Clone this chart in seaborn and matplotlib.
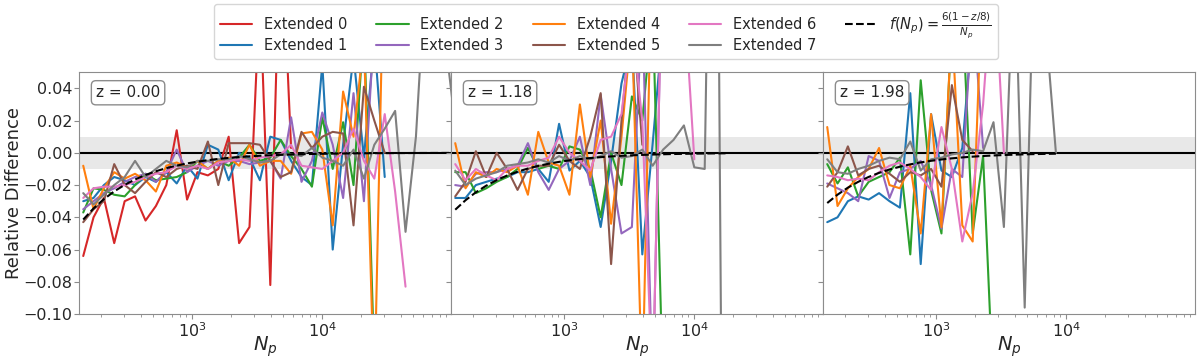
import numpy as np
import pandas as pd
import matplotlib
matplotlib.use("Agg")
import matplotlib.pyplot as plt
import seaborn as sns

# bin centres (number of particles)
NP = [145, 174, 209, 251, 302, 363, 437, 525, 631, 759, 912, 1096, 1318, 1585,
      1905, 2291, 2754, 3311, 3981, 4786, 5754, 6918, 8318, 10000, 12023, 14454,
      17378, 20893, 25119, 30200, 36308, 43652, 52481, 63096, 75858, 91201, 109648]

REDSHIFTS = [0.00, 1.18, 1.98]
LABELS = ["Extended 0", "Extended 1", "Extended 2", "Extended 3",
          "Extended 4", "Extended 5", "Extended 6", "Extended 7"]
COLORS = ["#d62728", "#1f77b4", "#2ca02c", "#9467bd",
          "#ff7f0e", "#8c564b", "#e377c2", "#7f7f7f"]

# ---- z = 0.00 ----
e0_a = [-0.064, -0.040, -0.028, -0.056, -0.030, -0.027, -0.042, -0.033, -0.020, 0.014,
        -0.029, -0.012, -0.014, -0.010, 0.010, -0.056, -0.046, 0.100, -0.082, 0.150, 0.003]
e1_a = [-0.030, -0.028, -0.020, -0.015, -0.017, -0.020, -0.015, -0.018, -0.012, -0.019,
        -0.008, -0.016, 0.005, 0.002, -0.017, 0.000, -0.003, -0.017, 0.010, 0.008,
        -0.005, -0.015, -0.020, 0.055, -0.060, 0.005, 0.060, -0.003, 0.070, -0.015]
e2_a = [-0.037, -0.022, -0.023, -0.026, -0.027, -0.020, -0.013, -0.017, -0.016, -0.015,
        -0.012, -0.005, -0.010, -0.005, -0.008, -0.003, 0.005, -0.005, -0.003, 0.008,
        -0.002, -0.010, -0.021, 0.022, -0.010, 0.019, -0.020, 0.080, -0.130]
e3_a = [-0.035, -0.030, -0.025, -0.022, -0.018, -0.015, -0.013, -0.018, -0.012, 0.002,
        -0.012, -0.008, -0.005, -0.008, -0.005, -0.005, -0.007, -0.006, -0.005, -0.016,
        0.022, -0.018, -0.005, 0.025, 0.005, -0.028, 0.037, -0.030, 0.080]
e4_a = [-0.008, -0.035, -0.022, -0.012, -0.016, -0.013, -0.017, -0.024, -0.008, -0.006,
        -0.009, -0.005, -0.010, -0.005, -0.003, -0.008, 0.005, -0.008, -0.005, -0.005,
        -0.013, 0.012, 0.013, 0.002, -0.045, 0.038, 0.010, 0.070, -0.150, 0.150]
e5_a = [-0.043, -0.035, -0.030, -0.007, -0.020, -0.025, -0.018, -0.012, -0.015, -0.010,
        -0.008, -0.010, 0.007, -0.020, 0.006, 0.006, 0.006, 0.005, -0.005, -0.015,
        -0.012, 0.013, 0.003, 0.010, 0.013, 0.012, -0.045, 0.041, 0.020, 0.000]
e6_a = [-0.028, -0.022, -0.021, -0.021, -0.020, -0.018, -0.015, -0.013, -0.012, -0.008,
        -0.010, -0.008, -0.010, -0.006, -0.005, -0.004, -0.005, -0.003, -0.002, -0.001,
        0.005, -0.008, -0.009, -0.010, -0.005, 0.000, 0.015, -0.005, -0.016, 0.024,
        -0.024, -0.083]
e7_a = [-0.025, -0.032, -0.026, -0.020, -0.015, -0.005, -0.015, -0.010, -0.005, -0.008,
        -0.009, -0.005, -0.005, -0.004, -0.004, -0.002, -0.004, -0.006, -0.005, -0.001,
        -0.001, -0.002, 0.003, -0.003, -0.005, -0.008, 0.002, -0.016, 0.005, 0.015,
        0.026, -0.049, 0.010, 0.120, 0.120, 0.060, 0.005]

# ---- z = 1.18 ----
e0_b = []
e1_b = [-0.028, -0.028, -0.020, -0.018, -0.016, -0.015, -0.012, -0.012, -0.010, -0.018,
        0.018, -0.011, -0.005, -0.015, -0.046, -0.005, 0.043, 0.070, -0.063, 0.006, 0.080]
e2_b = [-0.012, -0.012, -0.025, -0.022, -0.018, -0.015, -0.010, 0.003, -0.010, -0.008,
        -0.010, 0.004, 0.002, -0.010, -0.040, 0.000, -0.020, 0.035, 0.020, 0.090, -0.150]
e3_b = [-0.020, -0.021, -0.013, -0.012, -0.012, -0.010, -0.008, 0.006, -0.012, -0.023,
        -0.010, -0.005, 0.010, -0.020, 0.036, -0.010, -0.050, -0.046, 0.090, -0.150, 0.150]
e4_b = [0.006, -0.022, -0.012, -0.015, -0.010, -0.012, -0.008, -0.026, 0.013, -0.006,
        -0.008, -0.026, 0.030, -0.015, 0.020, -0.044, 0.010, 0.080, -0.150, 0.150]
e5_b = [-0.027, -0.018, 0.001, -0.015, 0.000, -0.010, -0.023, -0.010, -0.008, -0.008,
        0.005, -0.005, -0.010, 0.010, 0.037, -0.069, 0.020, 0.090, 0.005]
e6_b = [-0.007, -0.017, -0.010, -0.014, -0.017, -0.010, -0.008, -0.008, -0.005, -0.003,
        0.010, 0.000, -0.005, -0.011, 0.008, 0.010, 0.024, 0.080, 0.020, -0.150,
        0.150, 0.120, 0.100, -0.004]
e7_b = [-0.011, -0.020, -0.016, -0.014, -0.012, -0.008, -0.007, -0.006, -0.004, -0.006,
        -0.002, -0.005, -0.002, -0.004, -0.002, 0.001, -0.003, -0.002, 0.002, -0.008,
        0.002, 0.008, 0.017, -0.009, -0.010, 0.400, -0.500]

# ---- z = 1.98 ----
e0_c = []
e1_c = [-0.043, -0.040, -0.030, -0.027, -0.029, -0.025, -0.030, -0.034, 0.037, -0.069,
        0.024, -0.011, -0.015, 0.003, 0.080]
e2_c = [-0.007, -0.019, -0.009, -0.027, -0.018, -0.015, -0.012, -0.003, -0.063, 0.045,
        -0.023, -0.050, 0.080, 0.090, -0.050, -0.002, -0.150]
e3_c = [-0.019, -0.022, -0.025, -0.030, -0.002, -0.005, -0.028, -0.012, -0.010, -0.005,
        -0.020, -0.047, -0.010, -0.015, 0.090, 0.003]
e4_c = [0.016, -0.033, -0.022, -0.015, -0.010, 0.003, -0.020, -0.022, -0.008, -0.050,
        0.024, -0.046, 0.080, -0.045, -0.055, 0.120]
e5_c = [-0.021, -0.012, 0.004, -0.014, -0.010, -0.008, -0.013, -0.018, -0.012, -0.014,
        -0.010, -0.021, 0.042, 0.008, 0.001]
e6_c = [-0.014, -0.015, -0.017, -0.016, -0.017, -0.012, -0.008, -0.006, -0.010, -0.015,
        -0.023, 0.016, -0.010, -0.055, -0.025, 0.030, 0.120, 0.000]
e7_c = [-0.004, -0.012, -0.013, -0.010, -0.008, -0.005, -0.003, -0.004, 0.007, -0.011,
        -0.004, -0.003, -0.001, 0.000, 0.002, 0.001, 0.019, -0.046, 0.130, -0.096,
        0.150, 0.080, 0.000]

panels = [
    [e0_a, e1_a, e2_a, e3_a, e4_a, e5_a, e6_a, e7_a],
    [e0_b, e1_b, e2_b, e3_b, e4_b, e5_b, e6_b, e7_b],
    [e0_c, e1_c, e2_c, e3_c, e4_c, e5_c, e6_c, e7_c],
]

sns.set_style("ticks", {"axes.edgecolor": "0.55"})
plt.rcParams["font.family"] = ["DejaVu Sans"]

fig, axes = plt.subplots(1, 3, sharey=True, figsize=(12, 3.61), dpi=100)
fig.subplots_adjust(left=0.066, right=0.996, top=0.80, bottom=0.13, wspace=0)

for ax, z, series in zip(axes, REDSHIFTS, panels):
    ax.axhspan(-0.01, 0.01, color="#e8e8e8", lw=0, zorder=0)
    ax.axhline(0, color="black", lw=1.5, zorder=1)
    for vals, lab, col in zip(series, LABELS, COLORS):
        if len(vals) == 0:
            # keep the legend entry even when the series is empty here
            ax.plot([], [], color=col, lw=1.5, label=lab)
            continue
        sns.lineplot(x=NP[:len(vals)], y=vals, color=col, lw=1.5, label=lab,
                     estimator=None, legend=False, ax=ax)
    # model curve over the range of the last series
    n_fit = len(series[-1])
    npf = np.array(NP[:n_fit], dtype=float)
    sns.lineplot(x=npf, y=-6 * (1 - z / 8) / npf, color="black", lw=1.5,
                 linestyle="--", label=r"$f(N_p) = \frac{6(1 - z/8)}{N_p}$",
                 estimator=None, legend=False, ax=ax)
    ax.set_xscale("log")
    ax.set_xlim(135, 9.8e4)
    ax.set_xticks([1e3, 1e4])
    ax.set_ylim(-0.10, 0.05)
    ax.set_xlabel(r"$N_p$", fontsize=14, labelpad=-4)
    ax.tick_params(which="major", labelsize=11.5, color="0.55", length=3.5, pad=1.5)
    ax.tick_params(which="minor", color="0.55", length=2)
    ax.text(0.045, 0.915, "z = %.2f" % z, transform=ax.transAxes, fontsize=11,
            ha="left", va="center",
            bbox=dict(boxstyle="round,pad=0.3", facecolor="white", edgecolor="0.55"))

axes[0].set_yticks([-0.10, -0.08, -0.06, -0.04, -0.02, 0.00, 0.02, 0.04])
axes[0].set_ylabel("Relative Difference", fontsize=13, labelpad=0)

handles, labels = axes[0].get_legend_handles_labels()
fig.legend(handles, labels, loc="upper center", bbox_to_anchor=(0.505, 1.0),
           ncol=5, fontsize=10.5, frameon=True, handlelength=2.2,
           columnspacing=2.0, borderaxespad=0.3, labelspacing=0.4)

fig.savefig("out.png", dpi=100)
